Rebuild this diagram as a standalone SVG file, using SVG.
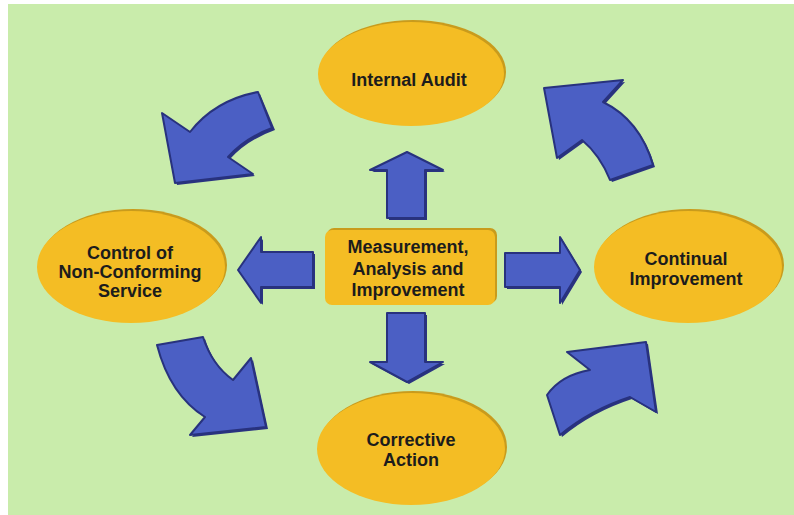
<svg xmlns="http://www.w3.org/2000/svg" width="794" height="515" viewBox="0 0 794 515">
<defs>
<style>
.bg{fill:#c9ecab}
.ell{fill:#f4bd24}
.rim{fill:#c99b1c}
.arr{fill:#4b5fc4;stroke:#28327e;stroke-width:2;stroke-linejoin:round}
.sh{fill:#2a3380}
.t{font-family:"Liberation Sans",Arial,sans-serif;font-weight:bold;font-size:18px;fill:#1c1c1c;text-anchor:middle}
</style>
</defs>
<rect x="0" y="0" width="794" height="515" fill="#ffffff"/>
<rect class="bg" x="8" y="4" width="786" height="511"/>

<g id="connectors">
  <!-- straight arrows from center -->
  <g id="arrow-up">
    <path class="sh" d="M389,172 L372,172 L409,154 L445,172 L427,172 L427,220 L389,220 Z"/>
    <path class="arr" d="M387,170 L370,170 L407,152 L443,170 L425,170 L425,218 L387,218 Z"/>
  </g>
  <g id="arrow-left">
    <path class="sh" d="M315,254 L263,254 L263,239 L240,272 L263,305 L263,289 L315,289 Z"/>
    <path class="arr" d="M313,252 L261,252 L261,237 L238,270 L261,303 L261,287 L313,287 Z"/>
  </g>
  <g id="arrow-right">
    <path class="sh" d="M507,255 L562,255 L562,239 L582,272 L562,305 L562,289 L507,289 Z"/>
    <path class="arr" d="M505,253 L560,253 L560,237 L580,270 L560,303 L560,287 L505,287 Z"/>
  </g>
  <g id="arrow-down">
    <path class="sh" d="M389,315 L427,315 L427,364 L445,364 L409,384 L372,364 L389,364 Z"/>
    <path class="arr" d="M387,313 L425,313 L425,362 L443,362 L407,382 L370,362 L387,362 Z"/>
  </g>
  <!-- curved cycle arrows -->
  <g id="arrow-audit-to-control">
    <path class="sh" d="M260,94 Q217,102 192,134 L164,115 L177,185 L255,176 L230,159 Q247,140 275,130 Z"/>
    <path class="arr" d="M258,92 Q215,100 190,132 L162,113 L175,183 L253,174 L228,157 Q245,138 272,128 Z"/>
  </g>
  <g id="arrow-control-to-corrective">
    <path class="sh" d="M159,347 L205,339 Q214,367 235,382 L253,360 L268,429 L192,437 L207,419 Q172,397 159,347 Z"/>
    <path class="arr" d="M157,345 L203,337 Q212,365 233,380 L251,358 L266,427 L190,435 L205,417 Q170,395 157,345 Z"/>
  </g>
  <g id="arrow-corrective-to-continual">
    <path class="sh" d="M648,344 L569,354 L592,372 Q563,377 549,397 L562,437 Q592,412 632,399 L658,414 Z"/>
    <path class="arr" d="M646,342 L567,352 L590,370 Q561,375 547,395 L560,435 Q590,410 630,397 L656,412 Z"/>
  </g>
  <g id="arrow-continual-to-audit">
    <path class="sh" d="M546,90 L625,82 L605,104 Q642,122 655,167 L612,182 Q602,157 584,142 L559,160 Z"/>
    <path class="arr" d="M544,88 L623,80 L603,102 Q640,120 653,165 L610,180 Q600,155 582,140 L557,158 Z"/>
  </g>
</g>

<g id="node-internal-audit">
  <ellipse class="rim" cx="413" cy="72" rx="93" ry="52"/>
  <ellipse class="ell" cx="411" cy="74" rx="93" ry="52"/>
  <text class="t" x="409" y="86">Internal Audit</text>
</g>

<g id="node-control">
  <ellipse class="rim" cx="133" cy="265" rx="94" ry="56"/>
  <ellipse class="ell" cx="131" cy="267" rx="94" ry="56"/>
  <text class="t" x="130" y="259">Control of</text>
  <text class="t" x="130" y="278">Non-Conforming</text>
  <text class="t" x="130" y="297">Service</text>
</g>

<g id="node-continual">
  <ellipse class="rim" cx="690" cy="265" rx="94" ry="56"/>
  <ellipse class="ell" cx="688" cy="267" rx="94" ry="56"/>
  <text class="t" x="686" y="265">Continual</text>
  <text class="t" x="686" y="285">Improvement</text>
</g>

<g id="node-corrective">
  <ellipse class="rim" cx="413" cy="447" rx="94" ry="56"/>
  <ellipse class="ell" cx="411" cy="449" rx="94" ry="56"/>
  <text class="t" x="411" y="446">Corrective</text>
  <text class="t" x="411" y="466">Action</text>
</g>

<g id="node-measurement">
  <rect class="rim" x="327" y="228" width="170" height="75" rx="7"/>
  <rect class="ell" x="325" y="230" width="170" height="75" rx="7"/>
  <text class="t" x="408" y="253">Measurement,</text>
  <text class="t" x="408" y="275">Analysis and</text>
  <text class="t" x="408" y="296">Improvement</text>
</g>
</svg>
